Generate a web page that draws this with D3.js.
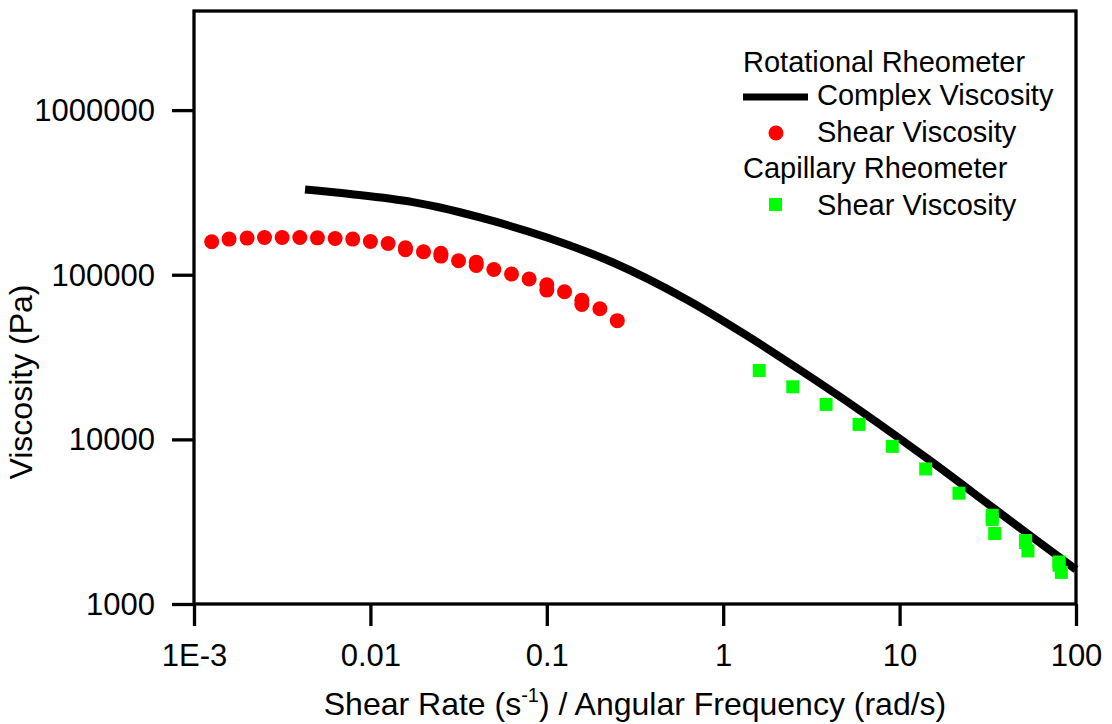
<!DOCTYPE html>
<html><head><meta charset="utf-8">
<script src="https://cdn.jsdelivr.net/npm/d3@7"></script>
<style>body{margin:0;background:#fff}svg{display:block}text{font-family:"Liberation Sans",Arial,sans-serif;fill:#000}</style>
</head><body><svg id="c" width="1112" height="724"></svg>
<script>
// Rotational rheometer - complex viscosity (angular frequency rad/s, Pa)
const complexFreq = [0.00426,0.00766,0.01744,0.0248,0.0418,0.1003,0.2373,0.6234,1.364,2.726,5.964,14.30,33.85,57.04,100];
const complexVisc = [329800,309700,276200,256200,222800,168300,118700,70560,42680,26380,14990,7670,3845,2529,1618];
// Rotational rheometer - shear viscosity (shear rate 1/s, Pa)
const rotRate = [0.00126,0.00158,0.002,0.00251,0.00316,0.00398,0.00501,0.00631,0.00794,0.01,0.0126,0.0158,0.0158,0.02,0.0251,0.0251,0.0316,0.0398,0.0398,0.0501,0.0631,0.0794,0.1,0.1,0.126,0.158,0.158,0.2,0.251];
const rotVisc = [158500,164600,166900,168300,168300,168300,167600,166000,164600,159100,154800,145800,142000,137800,135000,129800,121600,119300,113900,107700,101000,94200,87000,80700,78900,70100,66000,62200,52600];
// Capillary rheometer - shear viscosity
const capRate = [1.60,2.48,3.83,5.89,9.09,14.06,21.7,33.5,33.5,34.6,51.8,51.8,53.4,80.1,80.1,82.6];
const capVisc = [26200,20860,16300,12330,9070,6610,4710,3460,3260,2680,2430,2360,2100,1800,1720,1556];
// Axis ticks
const xTicks = [1e-3,0.01,0.1,1,10,100];
const xTickLabels = ["1E-3","0.01","0.1","1","10","100"];
const yTicks = [1000,10000,100000,1000000];
const yTickLabels = ["1000","10000","100000","1000000"];
const legendLabels = ["Rotational Rheometer","Complex Viscosity","Shear Viscosity","Capillary Rheometer","Shear Viscosity"];

const L=194,R=1076,T=11,B=604;
const svg=d3.select("#c");
const x=d3.scaleLog().domain([1e-3,100]).range([L,R]);
const y=d3.scaleLog().domain([1000,4e6]).range([B,T]);

// minor ticks
const xMinor=[];for(let e=-3;e<2;e++)for(let m=2;m<=9;m++)xMinor.push(m*Math.pow(10,e));
const yMinor=[];for(let e=3;e<7;e++)for(let m=2;m<=9;m++){const v=m*Math.pow(10,e);if(v<=4e6)yMinor.push(v);}

// frame
svg.append("rect").attr("x",L).attr("y",T).attr("width",R-L).attr("height",B-T)
  .attr("fill","none").attr("stroke","#000").attr("stroke-width",3.3);

const fsTick=31;
const gx=svg.append("g").attr("transform",`translate(0,${B})`);
gx.call(d3.axisBottom(x).tickValues(xMinor).tickSize(11).tickFormat(""));
gx.call(d3.axisBottom(x).tickValues(xTicks).tickSize(22).tickFormat((d,i)=>xTickLabels[i]));
gx.selectAll(".domain").remove();
gx.selectAll("line").attr("stroke","#000").attr("stroke-width",3.3);
gx.selectAll("text").attr("font-size",fsTick).attr("y",62).attr("dy",null).attr("font-family",null);

const gy=svg.append("g").attr("transform",`translate(${L},0)`);
gy.call(d3.axisLeft(y).tickValues(yMinor).tickSize(11).tickFormat(""));
gy.call(d3.axisLeft(y).tickValues(yTicks).tickSize(22).tickFormat((d,i)=>yTickLabels[i]));
gy.selectAll(".domain").remove();
gy.selectAll("line").attr("stroke","#000").attr("stroke-width",3.3);
gy.selectAll("text").attr("font-size",fsTick).attr("x",-39).attr("dy",10.5).attr("font-family",null);

// complex viscosity line
const line=d3.line().x((d,i)=>x(complexFreq[i])).y((d,i)=>y(complexVisc[i])).curve(d3.curveMonotoneX);
svg.append("path").attr("d",line(complexFreq)).attr("fill","none").attr("stroke","#000").attr("stroke-width",8);

// rotational shear viscosity
svg.append("g").selectAll("circle").data(rotRate).join("circle")
  .attr("cx",(d)=>x(d)).attr("cy",(d,i)=>y(rotVisc[i])).attr("r",7.5).attr("fill","#ff0000");

// capillary
const sq=13;
svg.append("g").selectAll("rect").data(capRate).join("rect")
  .attr("x",d=>x(d)-sq/2).attr("y",(d,i)=>y(capVisc[i])-sq/2).attr("width",sq).attr("height",sq).attr("fill","#00ff00");

// axis titles
const xt=svg.append("text").attr("x",(L+R)/2).attr("y",715).attr("text-anchor","middle").attr("font-size",32);
xt.append("tspan").text("Shear Rate (s");
xt.append("tspan").attr("font-size",20).attr("dy",-13).text("-1");
xt.append("tspan").attr("dy",13).text(") / Angular Frequency (rad/s)");
svg.append("text").attr("transform","translate(32,382) rotate(-90)").attr("text-anchor","middle").attr("font-size",32).text("Viscosity (Pa)");

// legend
const lg=svg.append("g");
const fsL=29;
lg.append("text").attr("x",743).attr("y",72).attr("font-size",fsL).text(legendLabels[0]);
lg.append("line").attr("x1",743).attr("x2",808).attr("y1",97).attr("y2",97).attr("stroke","#000").attr("stroke-width",7);
lg.append("text").attr("x",817).attr("y",105).attr("font-size",fsL).text(legendLabels[1]);
lg.append("circle").attr("cx",776).attr("cy",133).attr("r",7.5).attr("fill","#ff0000");
lg.append("text").attr("x",817).attr("y",142).attr("font-size",fsL).text(legendLabels[2]);
lg.append("text").attr("x",743).attr("y",178).attr("font-size",fsL).text(legendLabels[3]);
lg.append("rect").attr("x",769).attr("y",198).attr("width",13).attr("height",13).attr("fill","#00ff00");
lg.append("text").attr("x",817).attr("y",215).attr("font-size",fsL).text(legendLabels[4]);
</script></body></html>
